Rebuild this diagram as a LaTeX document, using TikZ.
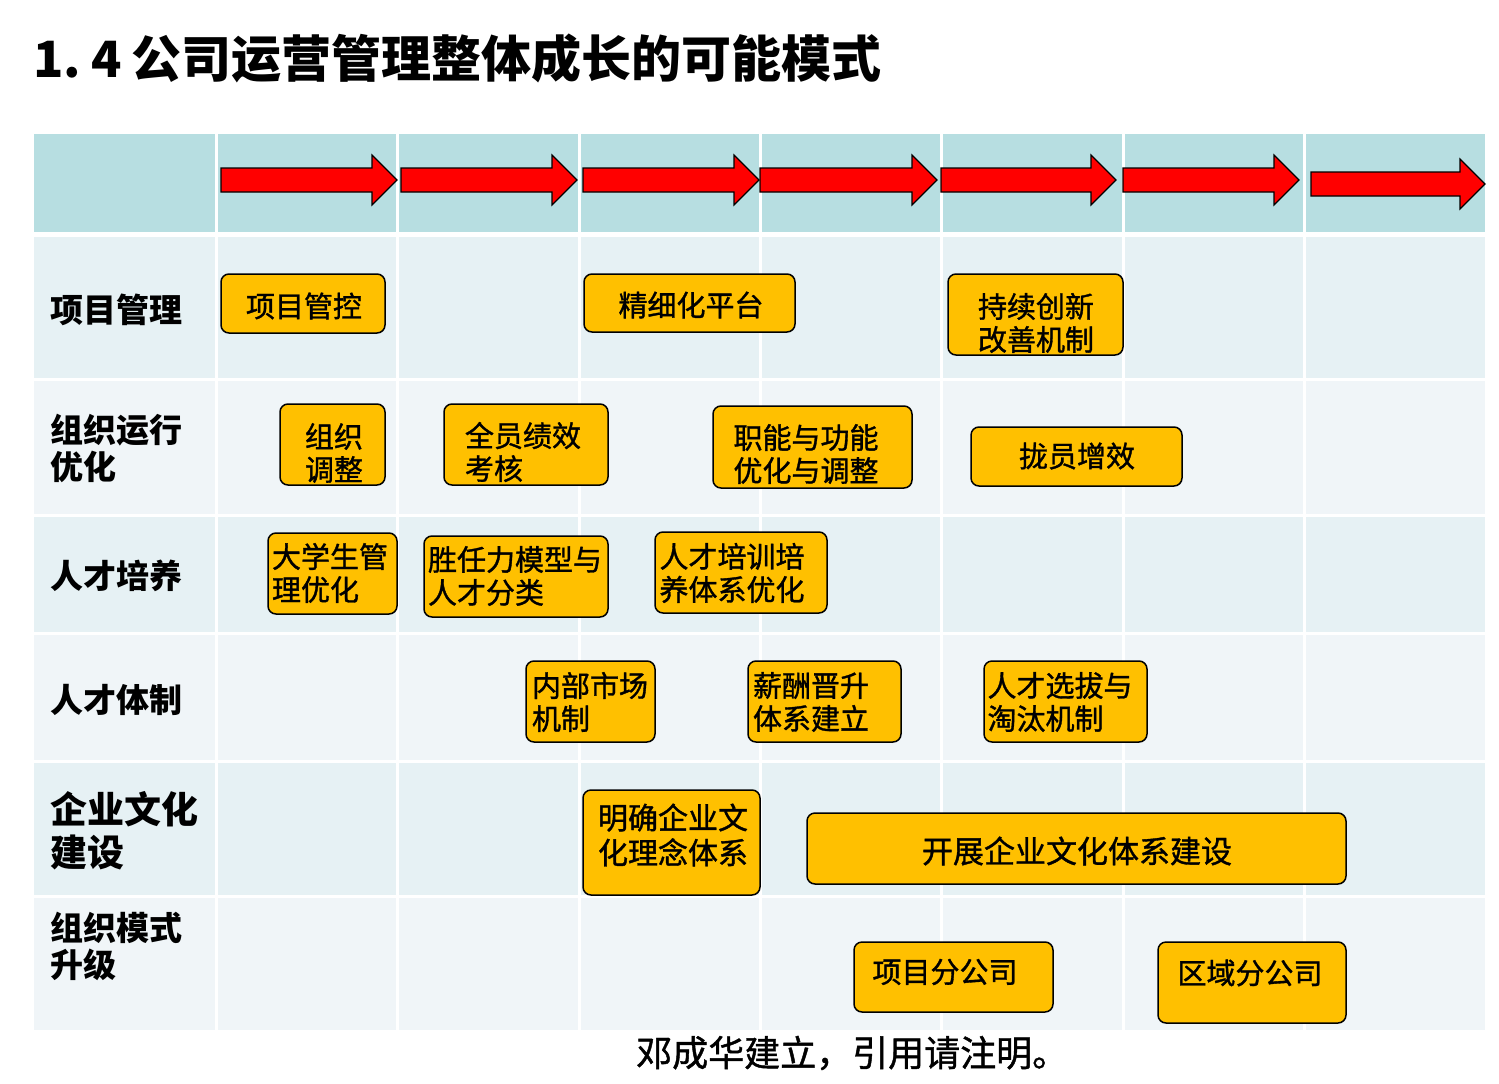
\documentclass[tikz,border=0pt]{standalone}
\usepackage{fontspec}
\setmainfont{Noto Sans CJK SC}
\newfontfamily\boxfont{Noto Sans CJK SC}[FakeBold=1.2]
\definecolor{headc}{RGB}{183,222,225}
\definecolor{rowa}{RGB}{230,241,244}
\definecolor{rowb}{RGB}{240,245,248}
\definecolor{boxorange}{RGB}{255,192,0}
\newcommand\bx[5]{\node[box, minimum width={#4-#2}, minimum height={#5-#3}] (#1) at ({(#2+#4)/2},{(#3+#5)/2}) {};}
\newcommand\rarrow[4]{\draw[arrowsty] (#1,#3-12) -- (#2-25,#3-12) -- (#2-25,#3-25) -- (#2,#3) -- (#2-25,#3+25) -- (#2-25,#3+12) -- (#1,#3+12) -- cycle;}
\begin{document}
\begin{tikzpicture}[x=1pt,y=-1pt,
 box/.style={draw=black, line width=1.5pt, fill=boxorange, rounded corners=8pt, inner sep=0pt},
 btxt/.style={font=\boxfont\fontsize{29}{33}\selectfont, align=left, inner sep=0pt, text=black},
 rlab/.style={font=\bfseries\fontsize{33}{37}\selectfont, align=left, anchor=west, inner sep=0pt},
 arrowsty/.style={fill=red, draw=black, line width=1.2pt, line join=miter}]
\useasboundingbox (0,0) rectangle (1499,1084);
\fill[white] (0,0) rectangle (1499,1084);
% title
\node[font=\bfseries\fontsize{50}{54}\selectfont, anchor=west, inner sep=0pt] (title) at (33,58) {1.\hspace{10pt}4\hspace{10pt}公司运营管理整体成长的可能模式};
% table
\fill[headc] (34,134) rectangle (1485,232);
\fill[rowa] (34,237) rectangle (1485,378);
\fill[rowb] (34,381) rectangle (1485,514);
\fill[rowa] (34,517) rectangle (1485,632);
\fill[rowb] (34,635) rectangle (1485,760);
\fill[rowa] (34,763) rectangle (1485,895);
\fill[rowb] (34,898) rectangle (1485,1030);
\foreach \x in {216.5,397.5,579.5,760.5,941.5,1123,1304.5}
  \draw[white, line width=3pt] (\x,134) -- (\x,1030);
% arrows
\rarrow{221}{397}{180}{}
\rarrow{401}{577}{180}{}
\rarrow{583}{759}{180}{}
\rarrow{760}{937}{180}{}
\rarrow{941}{1116}{180}{}
\rarrow{1123}{1299}{180}{}
\rarrow{1311}{1485}{184}{}
% row labels
\node[rlab] (l1) at (50,310) {项目管理};
\node[rlab] (l2) at (50,448) {组织运行\\优化};
\node[rlab] (l3) at (50,576) {人才培养};
\node[rlab] (l4) at (50,700) {人才体制};
\node[rlab, font=\bfseries\fontsize{37}{43}\selectfont] (l5) at (50,831) {企业文化\\建设};
\node[rlab] (l6) at (50,946) {组织模式\\升级};
% boxes
\bx{b1}{221}{274}{385}{333}
\node[btxt] (b1t) at (304,306) {项目管控};
\bx{b2}{584}{274}{795}{332}
\node[btxt] (b2t) at (691,305) {精细化平台};
\bx{b3}{948}{274}{1123}{355}
\node[btxt] (b3t) at (1036,323) {持续创新\\改善机制};
\bx{b4}{280}{404}{385}{485}
\node[btxt] (b4t) at (334,453) {组织\\调整};
\bx{b5}{444}{404}{608}{485}
\node[btxt] (b5t) at (523,452) {全员绩效\\考核};
\bx{b6}{713}{406}{912}{488}
\node[btxt] (b6t) at (806,454) {职能与功能\\优化与调整};
\bx{b7}{971}{427}{1182}{486}
\node[btxt] (b7t) at (1077,456) {拢员增效};
\bx{b8}{268}{533}{397}{614}
\node[btxt] (b8t) at (330,573) {大学生管\\理优化};
\bx{b9}{424}{536}{608}{617}
\node[btxt] (b9t) at (515,576) {胜任力模型与\\人才分类};
\bx{b10}{655}{532}{827}{613}
\node[btxt] (b10t) at (732,573) {人才培训培\\养体系优化};
\bx{b11}{526}{661}{655}{742}
\node[btxt] (b11t) at (590,702) {内部市场\\机制};
\bx{b12}{748}{661}{901}{742}
\node[btxt] (b12t) at (811,702) {薪酬晋升\\体系建立};
\bx{b13}{984}{661}{1147}{742}
\node[btxt] (b13t) at (1060,702) {人才选拔与\\淘汰机制};
\bx{b14}{583}{790}{760}{895}
\node[btxt, font=\boxfont\fontsize{30}{35}\selectfont] (b14t) at (673,835) {明确企业文\\化理念体系};
\bx{b15}{807}{813}{1346}{884}
\node[btxt, font=\boxfont\fontsize{31}{35}\selectfont] (b15t) at (1077,851) {开展企业文化体系建设};
\bx{b16}{854}{942}{1053}{1012}
\node[btxt] (b16t) at (945,972) {项目分公司};
\bx{b17}{1158}{942}{1346}{1023}
\node[btxt] (b17t) at (1250,973) {区域分公司};
% footer
\node[font=\boxfont\fontsize{36}{40}\selectfont, anchor=west, inner sep=0pt] (foot) at (636,1053) {邓成华建立，引用请注明。};
\end{tikzpicture}
\end{document}
